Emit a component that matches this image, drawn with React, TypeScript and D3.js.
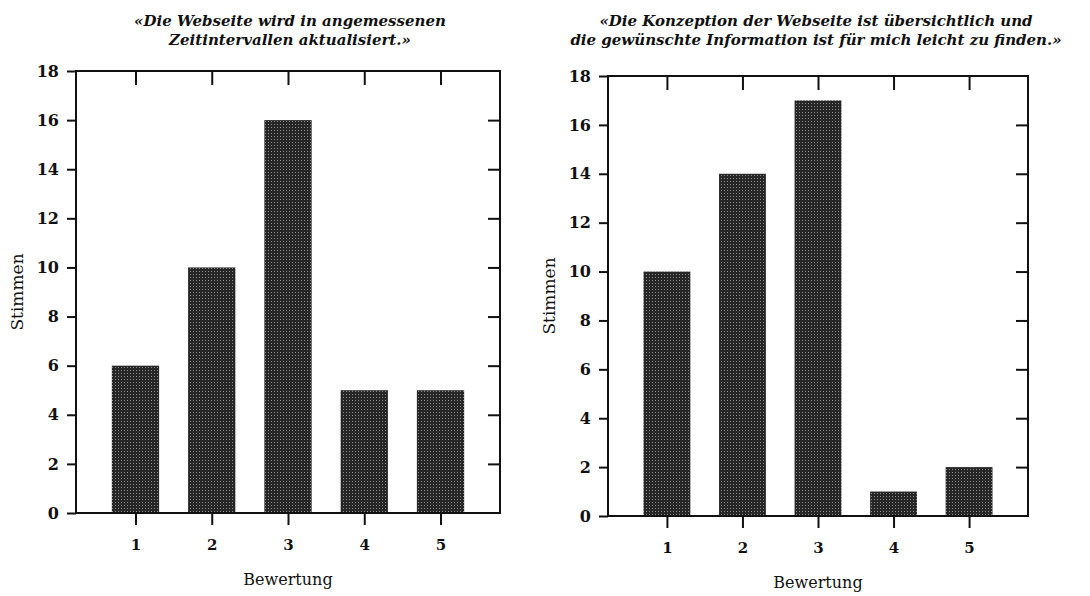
import * as d3 from "d3"
import { useEffect, useRef } from "react"

// Bewertung categories (x axis)
const ratings = [1, 2, 3, 4, 5]

// votes per rating
const votesLeft = [6, 10, 16, 5, 5]
const votesRight = [10, 14, 17, 1, 2]

const yTicks = [0, 2, 4, 6, 8, 10, 12, 14, 16, 18]

const titleLeft = [
  "«Die Webseite wird in angemessenen",
  "Zeitintervallen aktualisiert.»",
]
const titleRight = [
  "«Die Konzeption der Webseite ist übersichtlich und",
  "die gewünschte Information ist für mich leicht zu finden.»",
]

const FONT = "'DejaVu Serif', 'Liberation Serif', serif"

interface Panel {
  votes: number[]
  title: string[]
  frame: { left: number; right: number; top: number; bottom: number }
  titleX: number
}

const panels: Panel[] = [
  {
    votes: votesLeft,
    title: titleLeft,
    frame: { left: 76, right: 500, top: 71, bottom: 513 },
    titleX: 290,
  },
  {
    votes: votesRight,
    title: titleRight,
    frame: { left: 608, right: 1028, top: 76, bottom: 516 },
    titleX: 816,
  },
]

const App = () => {
  const svgRef = useRef<SVGSVGElement | null>(null)

  useEffect(() => {
    if (!svgRef.current) return
    const svg = d3.select(svgRef.current)
    svg.selectAll("*").remove()

    // stippled fill like the scanned bars
    const pat = svg
      .append("defs")
      .append("pattern")
      .attr("id", "stipple")
      .attr("width", 3)
      .attr("height", 3)
      .attr("patternUnits", "userSpaceOnUse")
    pat.append("rect").attr("width", 3).attr("height", 3).attr("fill", "#262626")
    pat
      .append("rect")
      .attr("x", 1)
      .attr("y", 1)
      .attr("width", 1)
      .attr("height", 1)
      .attr("fill", "#8c8c8c")

    panels.forEach((p) => {
      const { left, right, top, bottom } = p.frame
      const g = svg.append("g").style("font-family", FONT)

      const x = d3.scaleLinear().domain([0.22, 5.78]).range([left, right])
      const y = d3.scaleLinear().domain([0, 18]).range([bottom, top])
      const barW = x(0.62) - x(0)

      // Bars
      g.selectAll(".bar")
        .data(ratings)
        .enter()
        .append("rect")
        .attr("class", "bar")
        .attr("x", (d) => x(d) - barW / 2)
        .attr("y", (d, i) => y(p.votes[i]))
        .attr("width", barW)
        .attr("height", (d, i) => y(0) - y(p.votes[i]))
        .attr("fill", "url(#stipple)")

      // Frame
      g.append("rect")
        .attr("x", left)
        .attr("y", top)
        .attr("width", right - left)
        .attr("height", bottom - top)
        .attr("fill", "none")
        .attr("stroke", "#111")
        .attr("stroke-width", 2)

      // Left axis: outward ticks + labels
      const yAxis = d3.axisLeft(y).tickValues(yTicks).tickSize(9).tickPadding(8)
      const ya = g.append("g").attr("transform", `translate(${left},0)`).call(yAxis)
      ya.select(".domain").remove()
      ya.selectAll(".tick line").attr("stroke", "#111").attr("stroke-width", 2)
      ya.selectAll(".tick text")
        .style("font", `bold 16px ${FONT}`)
        .attr("fill", "#111")

      // Right axis: inward ticks
      const yr = g
        .append("g")
        .attr("transform", `translate(${right},0)`)
        .call(d3.axisRight(y).tickValues(yTicks.slice(1, -1)).tickSize(-12).tickFormat(() => ""))
      yr.select(".domain").remove()
      yr.selectAll(".tick line").attr("stroke", "#111").attr("stroke-width", 2)

      // Bottom axis: outward ticks + labels
      const xa = g
        .append("g")
        .attr("transform", `translate(0,${bottom})`)
        .call(d3.axisBottom(x).tickValues(ratings).tickSize(12).tickPadding(14).tickFormat(d3.format("d")))
      xa.select(".domain").remove()
      xa.selectAll(".tick line").attr("stroke", "#111").attr("stroke-width", 2)
      xa.selectAll(".tick text")
        .style("font", `bold 15px ${FONT}`)
        .attr("fill", "#111")

      // Top axis: inward ticks
      const xt = g
        .append("g")
        .attr("transform", `translate(0,${top})`)
        .call(d3.axisTop(x).tickValues(ratings).tickSize(-14).tickFormat(() => ""))
      xt.select(".domain").remove()
      xt.selectAll(".tick line").attr("stroke", "#111").attr("stroke-width", 2)

      // Axis titles
      g.append("text")
        .attr("x", (left + right) / 2)
        .attr("y", bottom + 72)
        .attr("text-anchor", "middle")
        .style("font", `16px ${FONT}`)
        .attr("fill", "#111")
        .text("Bewertung")

      g.append("text")
        .attr("transform", `translate(${left - 53},${(top + bottom) / 2}) rotate(-90)`)
        .attr("text-anchor", "middle")
        .style("font", `17px ${FONT}`)
        .attr("fill", "#111")
        .text("Stimmen")

      // Chart title
      p.title.forEach((line, i) => {
        g.append("text")
          .attr("x", p.titleX)
          .attr("y", 26 + i * 19)
          .attr("text-anchor", "middle")
          .style("font", `italic bold 15px ${FONT}`)
          .attr("fill", "#111")
          .text(line)
      })
    })
  }, [])

  return (
    <svg
      ref={svgRef}
      width={1090}
      height={596}
      style={{ position: "absolute", left: 0, top: 0, background: "#fff" }}
    />
  )
}

export default App
